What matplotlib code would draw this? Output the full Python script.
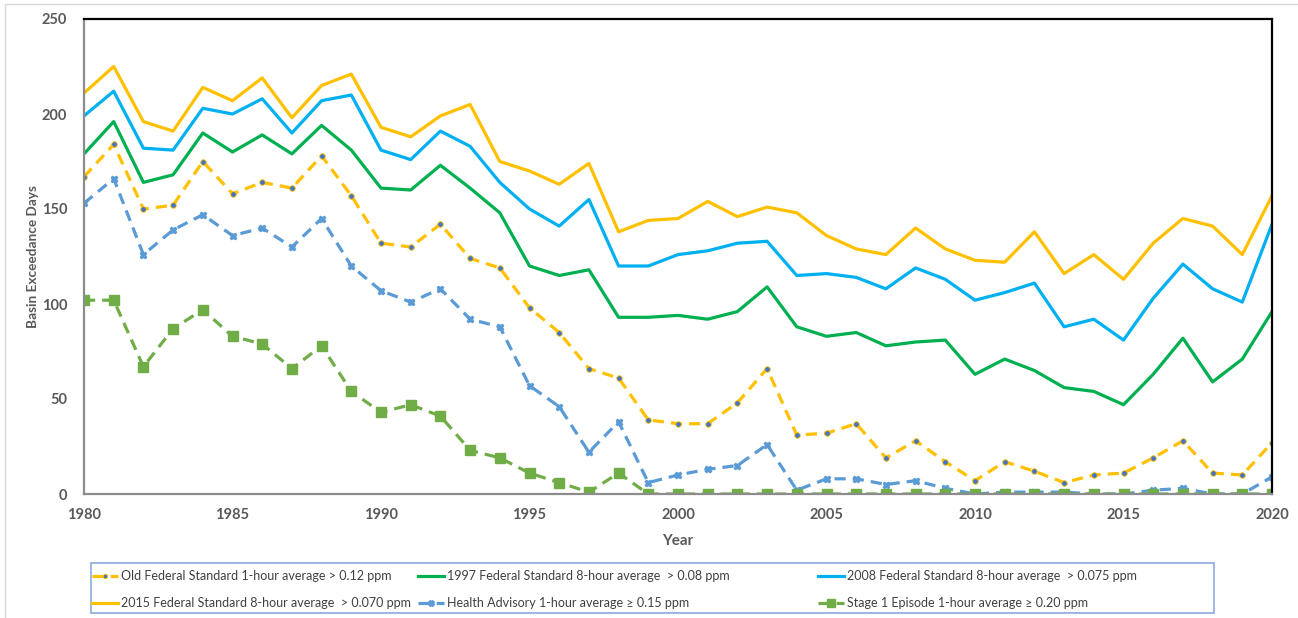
import numpy as np
import matplotlib
matplotlib.use('Agg')
import matplotlib.pyplot as plt
from matplotlib.patches import Rectangle

plt.rcParams['font.family'] = ['Lato', 'DejaVu Sans']

years = list(range(1980, 2021))

# basin exceedance days
std_2015 = [211, 225, 196, 191, 214, 207, 219, 198, 215, 221,
            193, 188, 199, 205, 175, 170, 163, 174, 138, 144,
            145, 154, 146, 151, 148, 136, 129, 126, 140, 129,
            123, 122, 138, 116, 126, 113, 132, 145, 141, 126, 157]
std_2008 = [199, 212, 182, 181, 203, 200, 208, 190, 207, 210,
            181, 176, 191, 183, 164, 150, 141, 155, 120, 120,
            126, 128, 132, 133, 115, 116, 114, 108, 119, 113,
            102, 106, 111, 88, 92, 81, 103, 121, 108, 101, 142]
std_1997 = [179, 196, 164, 168, 190, 180, 189, 179, 194, 181,
            161, 160, 173, 161, 148, 120, 115, 118, 93, 93,
            94, 92, 96, 109, 88, 83, 85, 78, 80, 81,
            63, 71, 65, 56, 54, 47, 63, 82, 59, 71, 96]
old_fed = [167, 184, 150, 152, 175, 158, 164, 161, 178, 157,
           132, 130, 142, 124, 119, 98, 85, 66, 61, 39,
           37, 37, 48, 66, 31, 32, 37, 19, 28, 17,
           7, 17, 12, 6, 10, 11, 19, 28, 11, 10, 27]
health_adv = [153, 166, 126, 139, 147, 136, 140, 130, 145, 120,
              107, 101, 108, 92, 88, 57, 46, 22, 38, 6,
              10, 13, 15, 26, 2, 8, 8, 5, 7, 3,
              0, 1, 1, 1, 0, 0, 2, 3, 0, 0, 9]
stage1 = [102, 102, 67, 87, 97, 83, 79, 66, 78, 54,
          43, 47, 41, 23, 19, 11, 6, 1, 11, 0,
          0, 0, 0, 0, 0, 0, 0, 0, 0, 0,
          0, 0, 0, 0, 0, 0, 0, 0, 0, 0, 0]

lbl_old = 'Old Federal Standard 1-hour average > 0.12 ppm'
lbl_1997 = '1997 Federal Standard 8-hour average  > 0.08 ppm'
lbl_2008 = '2008 Federal Standard 8-hour average  > 0.075 ppm'
lbl_2015 = '2015 Federal Standard 8-hour average  > 0.070 ppm'
lbl_health = 'Health Advisory 1-hour average \u2265 0.15 ppm'
lbl_stage1 = 'Stage 1 Episode 1-hour average \u2265 0.20 ppm'

W, H = 1298, 618
fig = plt.figure(figsize=(W/100, H/100), dpi=100)
ax = fig.add_axes([84/W, 1-494/H, (1272-84)/W, (494-19)/H])

# light frame round the whole picture
fig.patches.append(Rectangle((5/W, -0.05), 1.2, 1-4/H+0.05,
                             transform=fig.transFigure, fill=False,
                             edgecolor='#d9d9d9', linewidth=1.0))

LW = 2.3
DASH = (0, (3.5, 2.2))
h_old, = ax.plot(years, old_fed, color='#FFC000', lw=LW, ls=DASH,
                 marker='o', ms=4, mfc='#4472C4', mec='#FFC000', mew=0.6,
                 label=lbl_old)
h_1997, = ax.plot(years, std_1997, color='#00B050', lw=LW, label=lbl_1997)
h_2008, = ax.plot(years, std_2008, color='#00B0F0', lw=LW, label=lbl_2008)
h_2015, = ax.plot(years, std_2015, color='#FFC000', lw=LW, label=lbl_2015)
h_health, = ax.plot(years, health_adv, color='#5B9BD5', lw=LW, ls=DASH,
                    marker='X', ms=5, mfc='#5B9BD5', mec='#5B9BD5',
                    label=lbl_health)
h_stage, = ax.plot(years, stage1, color='#70AD47', lw=LW, ls=DASH,
                   marker='s', ms=6.5, mfc='#70AD47', mec='#70AD47',
                   label=lbl_stage1)

ax.set_xlim(1980, 2020)
ax.set_ylim(0, 250)
ax.set_xticks(range(1980, 2021, 5))
ax.set_yticks(range(0, 251, 50))
ax.tick_params(length=0, labelsize=10.5, labelcolor='#595959', pad=10)
ax.tick_params(axis='y', pad=12)
for t in ax.get_xticklabels() + ax.get_yticklabels():
    t.set_fontweight('bold')

for s in ('left', 'bottom'):
    ax.spines[s].set_color('#8c8c8c')
    ax.spines[s].set_linewidth(1.6)
for s in ('top', 'right'):
    ax.spines[s].set_color('black')
    ax.spines[s].set_linewidth(1.6)

ax.set_xlabel('Year', fontsize=11, fontweight='bold', color='#595959',
              labelpad=9)
ax.set_ylabel('Basin Exceedance Days', fontsize=9.8, fontweight='bold',
              color='#595959', labelpad=2)

# legend: frame plus three two-row columns placed where the reference has them
fig.patches.append(Rectangle((91/W, 1-613/H), (1214-91)/W, 50/H,
                             transform=fig.transFigure, fill=False,
                             edgecolor='#8EAADB', linewidth=1.2))
columns = [(92, [h_old, h_2015]), (418, [h_1997, h_health]),
           (818, [h_2008, h_stage])]
for x0, hs in columns:
    lg = fig.legend(handles=hs, labels=[h.get_label() for h in hs],
                    loc='upper left', bbox_to_anchor=(x0/W, 1-570/H),
                    frameon=False, fontsize=9, borderpad=0, borderaxespad=0,
                    handlelength=2.1, handletextpad=0.2, labelspacing=1.2,
                    markerscale=0.8)
    for t in lg.get_texts():
        t.set_color('#404040')

fig.savefig('out.png', dpi=100)
